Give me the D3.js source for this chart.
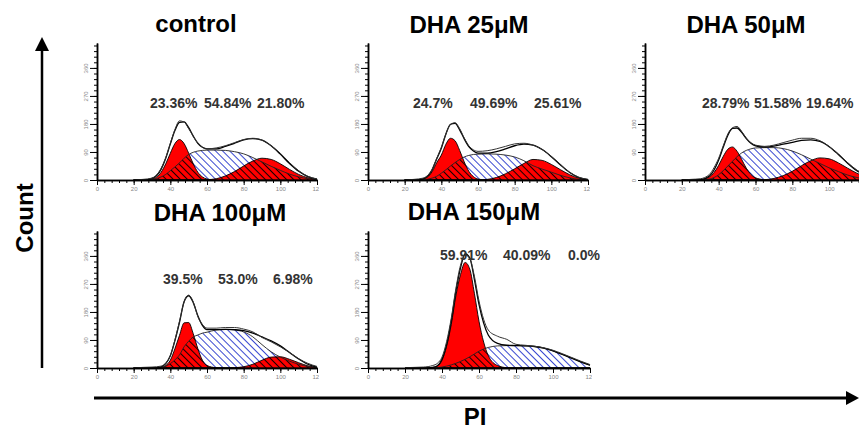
<!DOCTYPE html>
<html>
<head>
<meta charset="utf-8">
<script src="https://cdn.jsdelivr.net/npm/d3@7"></script>
<style>
  body { margin: 0; background: #fff; }
  svg { display: block; font-family: "Liberation Sans", Arial, sans-serif; }
</style>
</head>
<body>
<svg id="chart" width="859" height="439"></svg>
<script>
const xs = [20, 25, 30, 35, 37.5, 40, 42.5, 45, 47.5, 50, 52.5, 55, 57.5, 60, 65, 70, 75, 80, 85, 90, 95, 100, 105, 110, 115, 120];

const xTicks = [0, 20, 40, 60, 80, 100, 120];
const yTicks = [0, 90, 180, 270, 360];

// control
const g1Control   = [0, 0, 3, 25, 52, 86, 117, 130, 117, 86, 52, 25, 10, 3, 0, 0, 0, 0, 0, 0, 0, 0, 0, 0, 0, 0];
const sControl    = [0, 0, 2, 10, 18, 30, 42, 55, 70, 82, 89, 93, 95, 96, 96, 95, 91, 84, 72, 58, 44, 31, 19, 10, 4, 1];
const g2Control   = [0, 0, 0, 0, 0, 0, 0, 0, 0, 0, 0, 0, 0, 1, 4, 13, 27, 45, 61, 70, 66, 52, 34, 18, 7, 2];
const dataControl = [0, 2, 6, 38, 72, 118, 162, 190, 186, 165, 140, 118, 105, 100, 103, 110, 120, 130, 134, 128, 110, 86, 56, 30, 12, 3];

// DHA 25uM
const g1Dha25   = [0, 0, 3, 27, 56, 80, 115, 134, 126, 95, 58, 28, 11, 3, 0, 0, 0, 0, 0, 0, 0, 0, 0, 0, 0, 0];
const sDha25    = [0, 0, 1, 6, 12, 22, 33, 45, 56, 66, 74, 79, 82, 83, 84, 83, 80, 74, 62, 46, 35, 25, 15, 7, 2, 0];
const g2Dha25   = [0, 0, 0, 0, 0, 0, 0, 0, 0, 0, 0, 0, 0, 0, 2, 8, 20, 36, 53, 66, 63, 50, 33, 17, 6, 1];
const dataDha25 = [0, 2, 6, 35, 70, 105, 148, 178, 184, 165, 135, 110, 97, 92, 94, 100, 108, 116, 118, 112, 98, 76, 50, 25, 9, 2];

// DHA 50uM
const g1Dha50   = [0, 0, 1, 10, 24, 47, 76, 99, 106, 92, 66, 38, 18, 7, 1, 0, 0, 0, 0, 0, 0, 0, 0, 0, 0, 0];
const sDha50    = [0, 0, 0, 3, 8, 17, 30, 45, 60, 75, 87, 95, 100, 103, 104, 104, 101, 93, 81, 67, 53, 39, 27, 16, 8, 3];
const g2Dha50   = [0, 0, 0, 0, 0, 0, 0, 0, 0, 0, 0, 0, 0, 0, 1, 5, 14, 28, 46, 62, 71, 68, 55, 38, 22, 10];
const dataDha50 = [0, 2, 4, 18, 40, 70, 110, 148, 168, 172, 156, 135, 120, 112, 108, 112, 120, 128, 134, 134, 126, 108, 84, 56, 32, 15];

// DHA 100uM
const g1Dha100   = [0, 0, 0, 2, 8, 25, 62, 105, 145, 146, 110, 62, 25, 8, 1, 0, 0, 0, 0, 0, 0, 0, 0, 0, 0, 0];
const sDha100    = [0, 0, 0, 2, 6, 14, 26, 42, 68, 86, 100, 106, 112, 115, 122, 124, 122, 116, 100, 75, 52, 35, 22, 12, 5, 1];
const g2Dha100   = [0, 0, 0, 0, 0, 0, 0, 0, 0, 0, 0, 0, 0, 0, 0, 0, 1, 4, 12, 25, 35, 36, 28, 17, 7, 2];
const dataDha100 = [0, 2, 3, 6, 16, 40, 90, 150, 212, 234, 212, 165, 140, 128, 128, 130, 130, 125, 116, 98, 84, 68, 50, 30, 15, 5];

// DHA 150uM
const g1Dha150   = [0, 0, 0, 2, 6, 25, 70, 140, 232, 300, 339, 318, 240, 150, 40, 8, 1, 0, 0, 0, 0, 0, 0, 0, 0, 0];
const sDha150    = [0, 0, 0, 0, 1, 3, 6, 10, 15, 21, 28, 36, 45, 54, 66, 71, 72, 72, 71, 69, 64, 55, 44, 32, 20, 9];
const g2Dha150   = [0, 0, 0, 0, 0, 0, 0, 0, 0, 0, 0, 0, 0, 0, 0, 0, 0, 0, 0, 0, 0, 0, 0, 0, 0, 0];
const dataDha150 = [1, 2, 3, 8, 15, 35, 85, 160, 255, 330, 362, 352, 295, 215, 122, 102, 92, 76, 73, 70, 65, 57, 46, 34, 22, 11];

const titles = ["control", "DHA 25μM", "DHA 50μM", "DHA 100μM", "DHA 150μM"];
const pctControl = ["23.36%", "54.84%", "21.80%"];
const pctDha25   = ["24.7%", "49.69%", "25.61%"];
const pctDha50   = ["28.79%", "51.58%", "19.64%"];
const pctDha100  = ["39.5%", "53.0%", "6.98%"];
const pctDha150  = ["59.91%", "40.09%", "0.0%"];

// layout of the five panels (pixels)
const panels = [
  {g1: g1Control, s: sControl, g2: g2Control, data: dataControl, pct: pctControl,
   left: 97, base: 180, w: 220, titleX: 196, titleY: 32, labX: [150, 204, 257], labY: 108},
  {g1: g1Dha25, s: sDha25, g2: g2Dha25, data: dataDha25, pct: pctDha25,
   left: 368, base: 180, w: 220, titleX: 469, titleY: 33, labX: [413, 470, 534], labY: 108},
  {g1: g1Dha50, s: sDha50, g2: g2Dha50, data: dataDha50, pct: pctDha50,
   left: 645, base: 180, w: 221, titleX: 746, titleY: 33, labX: [702, 754, 806], labY: 108},
  {g1: g1Dha100, s: sDha100, g2: g2Dha100, data: dataDha100, pct: pctDha100,
   left: 97, base: 368, w: 220, titleX: 220, titleY: 221, labX: [163, 218, 273], labY: 284},
  {g1: g1Dha150, s: sDha150, g2: g2Dha150, data: dataDha150, pct: pctDha150,
   left: 368, base: 368, w: 222, titleX: 474, titleY: 220, labX: [440, 503, 568], labY: 260}
];

const svg = d3.select("#chart");
const defs = svg.append("defs");
const pageW = +svg.attr("width");

// hatch fills for the S phase
function hatch(id, color, bg) {
  const p = defs.append("pattern")
    .attr("id", id)
    .attr("patternUnits", "userSpaceOnUse")
    .attr("width", 5).attr("height", 5)
    .attr("patternTransform", "rotate(-45)");
  if (bg) p.append("rect").attr("width", 5).attr("height", 5).attr("fill", bg);
  p.append("line")
    .attr("x1", 2.5).attr("y1", 0).attr("x2", 2.5).attr("y2", 5)
    .attr("stroke", color).attr("stroke-width", 0.9);
}
hatch("blueHatch", "#2233cc", "#fff");
hatch("blackHatch", "#000", null);

const H = 137;

panels.forEach(function(p, i) {
  const x = d3.scaleLinear().domain([0, 120]).range([0, p.w]);
  const y = d3.scaleLinear().domain([0, 440]).range([H, 0]);

  defs.append("clipPath").attr("id", "panelClip" + i)
    .append("rect").attr("x", -30).attr("y", -10).attr("width", p.w + 32).attr("height", H + 30);

  const g = svg.append("g")
    .attr("transform", "translate(" + p.left + "," + (p.base - H) + ")")
    .attr("clip-path", "url(#panelClip" + i + ")");

  const fit = xs.map((d, k) => p.g1[k] + p.s[k] + p.g2[k]);

  const area = vals => d3.area()
    .x((d, k) => x(xs[k]))
    .y0(y(0))
    .y1((d, k) => y(vals[k]))
    .curve(d3.curveMonotoneX)(xs);
  const line = vals => d3.line()
    .x((d, k) => x(xs[k]))
    .y((d, k) => y(vals[k]))
    .curve(d3.curveMonotoneX)(xs);

  // S phase, blue hatched
  g.append("path").attr("d", area(p.s)).attr("fill", "url(#blueHatch)");

  // G1 and G2 peaks
  g.append("path").attr("d", area(p.g1)).attr("fill", "#ff0000").attr("stroke", "#000").attr("stroke-width", 0.9);
  g.append("path").attr("d", area(p.g2)).attr("fill", "#ff0000").attr("stroke", "#000").attr("stroke-width", 0.9);

  // S phase where it lies inside the red peaks: black hatch
  const redClip = defs.append("clipPath").attr("id", "redClip" + i);
  redClip.append("path").attr("d", area(p.g1));
  redClip.append("path").attr("d", area(p.g2));
  g.append("path").attr("d", area(p.s))
    .attr("fill", "url(#blackHatch)")
    .attr("clip-path", "url(#redClip" + i + ")");

  g.append("path").attr("d", line(p.s)).attr("fill", "none").attr("stroke", "#222").attr("stroke-width", 0.9);

  // model sum and measured histogram
  g.append("path").attr("d", line(fit)).attr("fill", "none").attr("stroke", "#000").attr("stroke-width", 1.3);
  g.append("path").attr("d", line(p.data)).attr("fill", "none").attr("stroke", "#333").attr("stroke-width", 1);

  // axes
  const yMinor = g.append("g").call(d3.axisLeft(y).tickValues(d3.range(0, 440, 18)).tickSize(3).tickSizeOuter(0).tickFormat(""));
  const yAxis = g.append("g").call(d3.axisLeft(y).tickValues(yTicks).tickSize(7).tickSizeOuter(0));
  const xMinor = g.append("g").attr("transform", "translate(0," + H + ")")
    .call(d3.axisBottom(x).tickValues(d3.range(0, 121, 4)).tickSize(3).tickSizeOuter(0).tickFormat(""));
  // the last panel runs past the page edge; drop tick labels that would be cut
  const shownX = xTicks.filter(t => p.left + x(t) + 6 <= pageW);
  const xAxis = g.append("g").attr("transform", "translate(0," + H + ")")
    .call(d3.axisBottom(x).tickValues(xTicks).tickSize(5).tickSizeOuter(0)
      .tickFormat(t => shownX.includes(t) ? t : ""));

  [yMinor, yAxis, xMinor, xAxis].forEach(a => {
    a.selectAll("path.domain").attr("stroke", "#000").attr("stroke-width", 1.5);
    a.selectAll("line").attr("stroke", "#000").attr("stroke-width", 1);
  });

  yAxis.selectAll("text")
    .attr("x", 0).attr("y", -9).attr("dy", 0)
    .attr("transform", "rotate(-90)")
    .attr("text-anchor", "middle")
    .attr("font-size", 6).attr("fill", "#888");
  xAxis.selectAll("text")
    .attr("y", 7).attr("dy", "0.71em")
    .attr("font-size", 6).attr("fill", "#888");

  // title and phase percentages
  svg.append("text")
    .attr("x", p.titleX).attr("y", p.titleY)
    .attr("text-anchor", "middle")
    .attr("font-size", 24).attr("font-weight", "bold").attr("fill", "#000")
    .text(titles[i]);

  p.pct.forEach(function(t, j) {
    svg.append("text")
      .attr("x", p.labX[j]).attr("y", p.labY)
      .attr("font-size", 14).attr("font-weight", "bold").attr("fill", "#333")
      .text(t);
  });
});

// big axis arrows
svg.append("line").attr("x1", 42).attr("y1", 368).attr("x2", 42).attr("y2", 50)
  .attr("stroke", "#000").attr("stroke-width", 2.5);
svg.append("path").attr("d", "M35,51L42,37L49,51Z").attr("fill", "#000");
svg.append("text")
  .attr("transform", "translate(33,218) rotate(-90)")
  .attr("text-anchor", "middle")
  .attr("font-size", 24).attr("font-weight", "bold")
  .text("Count");

svg.append("line").attr("x1", 94).attr("y1", 398).attr("x2", 847).attr("y2", 398)
  .attr("stroke", "#000").attr("stroke-width", 3);
svg.append("path").attr("d", "M846,391L859,398L846,405Z").attr("fill", "#000");
svg.append("text")
  .attr("x", 475).attr("y", 425)
  .attr("text-anchor", "middle")
  .attr("font-size", 24).attr("font-weight", "bold")
  .text("PI");
</script>
</body>
</html>
